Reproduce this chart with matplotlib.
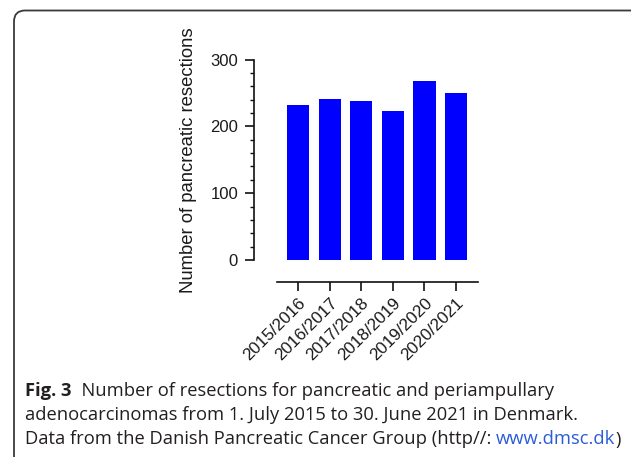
import matplotlib
matplotlib.use("Agg")
import matplotlib.pyplot as plt
from matplotlib.patches import FancyBboxPatch
from matplotlib.ticker import MultipleLocator
from matplotlib.transforms import IdentityTransform

categories = ["2015/2016", "2016/2017", "2017/2018", "2018/2019", "2019/2020", "2020/2021"]
resections = [232, 241, 238, 223, 268, 250]
yticks = [0, 100, 200, 300]

W, H = 631, 457
fig = plt.figure(figsize=(W / 100, H / 100), dpi=100)

# rounded frame (pixel coordinates, origin bottom-left)
frame = FancyBboxPatch((14, -30), 700, H - 10.5 + 30,
                       boxstyle="round,pad=0,rounding_size=11",
                       transform=IdentityTransform(), facecolor="none",
                       edgecolor="#3a3a3a", linewidth=1.3)
fig.patches.append(frame)

left, right = 277 / W, 477.5 / W
bottom, top = 1 - 260 / H, 1 - 59.5 / H
ax = fig.add_axes([left, bottom, right - left, top - bottom])

x = list(range(len(categories)))
ax.bar(x, resections, width=0.7, color="#0000ff")
ax.set_xlim(-0.67, 5.68)
ax.set_ylim(0, 300)
ax.set_yticks(yticks)
ax.yaxis.set_minor_locator(MultipleLocator(20))
ax.set_xticks(x)

for s in ["top", "right"]:
    ax.spines[s].set_visible(False)
ax.spines["left"].set_position(("outward", 23 * 0.72))
ax.spines["bottom"].set_position(("outward", 22 * 0.72))
for s in ["left", "bottom"]:
    ax.spines[s].set_linewidth(1.2)
    ax.spines[s].set_color("#111111")
ax.tick_params(axis="both", which="major", length=6.5, width=1.2, color="#111111",
               labelcolor="#1a1a1a")
ax.tick_params(axis="y", which="major", pad=5)
ax.tick_params(axis="x", which="major", pad=3)
ax.tick_params(axis="y", which="minor", length=3, width=1.0, color="#111111")

ax.set_xticklabels(categories)
for lab in ax.get_xticklabels():
    lab.set(rotation=45, ha="right", rotation_mode="anchor",
            family="Liberation Sans", fontsize=12.3)
for lab in ax.get_yticklabels():
    lab.set(family="Liberation Sans", fontsize=12)
ax.set_ylabel("Number of pancreatic resections", family="Liberation Sans",
              fontsize=13.3, color="#1a1a1a", labelpad=9.5)

# caption
cap_font = "Open Sans"
fs = 13.2
col = "#231f20"
t1 = fig.text(25 / W, 1 - 396 / H, "Fig. 3", family=cap_font, fontweight="bold",
              fontsize=fs, color=col)
fig.add_artist(matplotlib.text.Annotation(
    "  Number of resections for pancreatic and periampullary",
    xy=(1, 0), xycoords=t1, va="bottom", ha="left",
    family=cap_font, fontsize=fs, color=col, annotation_clip=False))
fig.text(25 / W, 1 - 420.5 / H,
         "adenocarcinomas from 1. July 2015 to 30. June 2021 in Denmark.",
         family=cap_font, fontsize=fs, color=col)
t3 = fig.text(25 / W, 1 - 444.5 / H,
              "Data from the Danish Pancreatic Cancer Group (http//: ",
              family=cap_font, fontsize=fs, color=col)
link = matplotlib.text.Annotation("www.dmsc.dk", xy=(1, 0), xycoords=t3,
                                  va="bottom", ha="left", family=cap_font,
                                  fontsize=fs, color="#2a5bd8", annotation_clip=False)
fig.add_artist(link)
fig.add_artist(matplotlib.text.Annotation(")", xy=(1, 0), xycoords=link,
                                          va="bottom", ha="left", family=cap_font,
                                          fontsize=fs, color=col, annotation_clip=False))

fig.savefig("out.png", dpi=100)
